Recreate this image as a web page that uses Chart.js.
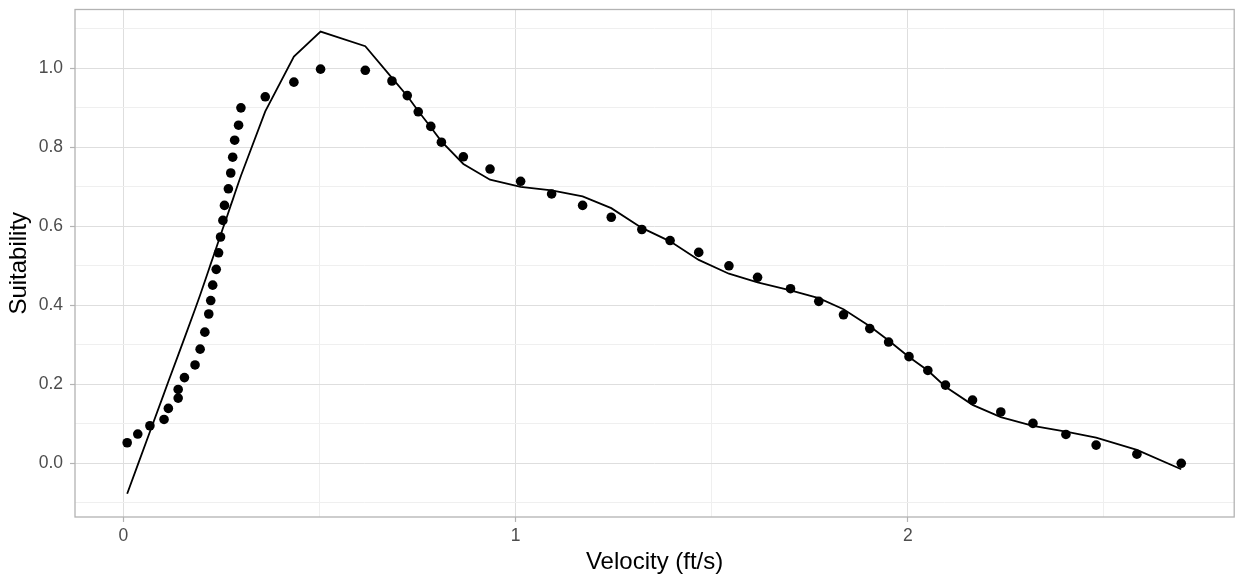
<!DOCTYPE html>
<html lang="en">
<head>
    <meta charset="UTF-8">
    <title>Suitability vs Velocity</title>
    <script src="https://cdn.jsdelivr.net/npm/chart.js@4.4.0/dist/chart.umd.min.js"></script>
    <style>
        body {
            margin: 0;
            padding: 0;
            background: #ffffff;
            overflow: hidden;
        }

        .wrap {
            width: 1239px;
            height: 577px;
            position: relative;
        }
    </style>
</head>
<body>
    <div class="wrap">
        <canvas id="suitChart"></canvas>
    </div>
    <script>
        // observed velocity (ft/s) and suitability
        const velocity = [
            0.010, 0.037, 0.068, 0.104, 0.115, 0.140, 0.140, 0.156, 0.183, 0.196,
            0.208, 0.218, 0.223, 0.228, 0.237, 0.243, 0.248, 0.254, 0.258, 0.268,
            0.274, 0.279, 0.284, 0.294, 0.300, 0.362, 0.435, 0.503, 0.617, 0.685,
            0.724, 0.752, 0.784, 0.811, 0.867, 0.935, 1.013, 1.092, 1.171, 1.244,
            1.322, 1.394, 1.467, 1.544, 1.617, 1.701, 1.773, 1.836, 1.903, 1.951,
            2.003, 2.051, 2.096, 2.165, 2.237, 2.319, 2.403, 2.480, 2.584, 2.697
        ];
        const suitability = [
            0.052, 0.074, 0.095, 0.111, 0.139, 0.165, 0.187, 0.217, 0.249, 0.289,
            0.332, 0.378, 0.412, 0.451, 0.491, 0.533, 0.573, 0.615, 0.653, 0.695,
            0.735, 0.775, 0.818, 0.856, 0.900, 0.928, 0.965, 0.998, 0.995, 0.968,
            0.931, 0.890, 0.853, 0.813, 0.776, 0.745, 0.714, 0.682, 0.653, 0.623,
            0.592, 0.564, 0.534, 0.500, 0.471, 0.442, 0.410, 0.376, 0.341, 0.307,
            0.270, 0.235, 0.198, 0.160, 0.130, 0.101, 0.073, 0.046, 0.023, 0.000
        ];
        // fitted curve at the same velocities
        const fitted = [
            -0.077, -0.004, 0.080, 0.177, 0.207, 0.274, 0.274, 0.317, 0.390, 0.426,
            0.461, 0.490, 0.505, 0.519, 0.545, 0.563, 0.577, 0.595, 0.606, 0.635,
            0.653, 0.667, 0.682, 0.711, 0.728, 0.891, 1.030, 1.093, 1.056, 0.976,
            0.930, 0.892, 0.851, 0.815, 0.758, 0.718, 0.700, 0.691, 0.676, 0.646,
            0.596, 0.562, 0.515, 0.480, 0.458, 0.438, 0.418, 0.390, 0.347, 0.311,
            0.269, 0.235, 0.194, 0.148, 0.117, 0.095, 0.080, 0.065, 0.034, -0.015
        ];

        const xRange = [-0.123, 2.832];
        const yRange = [-0.136, 1.149];

        const fontFamily = "'Liberation Sans', Arial, sans-serif";

        const isMajorY = v => Math.abs(Math.round(v * 10)) % 2 === 0;
        const isMajorX = v => Math.abs(v - Math.round(v)) < 1e-6;

        // ggplot style panel border around the whole plot area
        const panelBorder = {
            id: 'panelBorder',
            afterDraw(chart) {
                const a = chart.chartArea;
                const c = chart.ctx;
                c.save();
                c.strokeStyle = '#b3b3b3';
                c.lineWidth = 1.3;
                c.strokeRect(a.left, a.top, a.right - a.left, a.bottom - a.top);
                c.restore();
            }
        };

        const ctx = document.getElementById('suitChart').getContext('2d');
        new Chart(ctx, {
            type: 'scatter',
            data: {
                datasets: [{
                    label: 'Observed',
                    data: velocity.map((v, i) => ({ x: v, y: suitability[i] })),
                    backgroundColor: '#000000',
                    borderWidth: 0,
                    pointRadius: 4.8,
                    showLine: false
                }, {
                    label: 'Fitted',
                    data: velocity.map((v, i) => ({ x: v, y: fitted[i] })),
                    borderColor: '#000000',
                    borderWidth: 1.8,
                    pointRadius: 0,
                    showLine: true,
                    tension: 0
                }]
            },
            options: {
                responsive: true,
                maintainAspectRatio: false,
                animation: false,
                layout: { padding: { top: 9.5, right: 2, bottom: 0.1, left: 5 } },
                plugins: {
                    legend: { display: false },
                    tooltip: { enabled: false }
                },
                scales: {
                    x: {
                        type: 'linear',
                        min: xRange[0],
                        max: xRange[1],
                        // fixed size, no extra label overhang
                        afterFit: s => { s.height = 59.9; s.paddingLeft = 0; s.paddingRight = 0; },
                        border: { display: false },
                        grid: {
                            color: c => isMajorX(c.tick.value) ? '#dedede' : '#efefef',
                            tickColor: c => isMajorX(c.tick.value) ? '#b3b3b3' : 'rgba(0,0,0,0)',
                            tickLength: 5,
                            tickWidth: 1.2
                        },
                        ticks: {
                            stepSize: 0.5,
                            includeBounds: false,
                            autoSkip: false,
                            maxRotation: 0,
                            padding: 4,
                            color: '#4d4d4d',
                            font: { family: fontFamily, size: 17.5 },
                            callback: v => isMajorX(v) ? String(Math.round(v)) : ''
                        },
                        title: {
                            display: true,
                            text: 'Velocity (ft/s)',
                            color: '#000000',
                            padding: 0,
                            font: { family: fontFamily, size: 24 }
                        }
                    },
                    y: {
                        type: 'linear',
                        min: yRange[0],
                        max: yRange[1],
                        afterFit: s => { s.width = 70; s.paddingTop = 0; s.paddingBottom = 0; },
                        border: { display: false },
                        grid: {
                            color: c => isMajorY(c.tick.value) ? '#dedede' : '#efefef',
                            tickColor: c => isMajorY(c.tick.value) ? '#b3b3b3' : 'rgba(0,0,0,0)',
                            tickLength: 5,
                            tickWidth: 1.2
                        },
                        ticks: {
                            stepSize: 0.1,
                            includeBounds: false,
                            autoSkip: false,
                            padding: 7,
                            color: '#4d4d4d',
                            font: { family: fontFamily, size: 17.5 },
                            callback: v => isMajorY(v) ? v.toFixed(1) : ''
                        },
                        title: {
                            display: true,
                            text: 'Suitability',
                            color: '#000000',
                            padding: 0,
                            font: { family: fontFamily, size: 24 }
                        }
                    }
                }
            },
            plugins: [panelBorder]
        });
    </script>
</body>
</html>
